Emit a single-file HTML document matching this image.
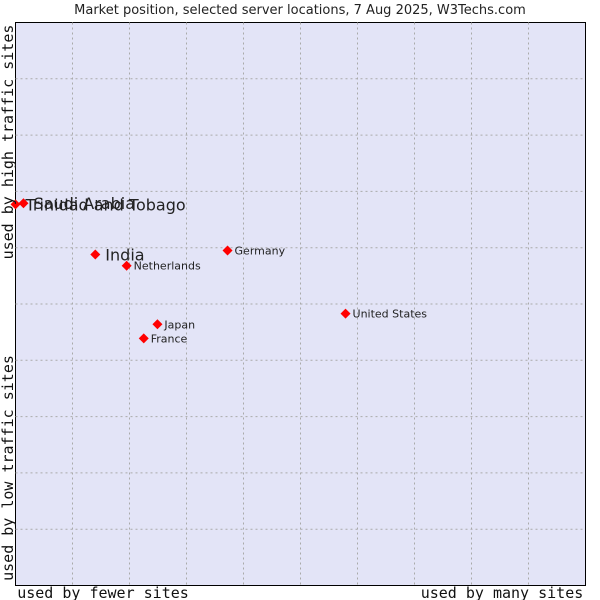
<!DOCTYPE html>
<html><head><meta charset="utf-8"><style>
body{margin:0;background:#fff;}
svg{display:block;font-family:"DejaVu Sans","Liberation Sans",sans-serif;}
</style></head><body>
<svg id="c" width="600" height="600">
<text x="300" y="14" text-anchor="middle" font-size="13" fill="#222">Market position, selected server locations, 7 Aug 2025, W3Techs.com</text>
<rect x="15.5" y="22.5" width="570" height="563" fill="#e3e4f7" stroke="#000"/>
<g id="grid"></g>
<g id="pts"></g>
<text x="103" y="598" text-anchor="middle" font-family="DejaVu Sans Mono,Liberation Mono,monospace" font-size="15" fill="#111">used by fewer sites</text>
<text x="502" y="598" text-anchor="middle" font-family="DejaVu Sans Mono,Liberation Mono,monospace" font-size="15" fill="#111">used by many sites</text>
<text transform="translate(13,142) rotate(-90)" text-anchor="middle" font-family="DejaVu Sans Mono,Liberation Mono,monospace" font-size="15" fill="#111">used by high traffic sites</text>
<text transform="translate(13,468) rotate(-90)" text-anchor="middle" font-family="DejaVu Sans Mono,Liberation Mono,monospace" font-size="15" fill="#111">used by low traffic sites</text>
</svg>
<script>
const countries=["Trinidad and Tobago","Saudi Arabia","India","Netherlands","Germany","United States","Japan","France"];
const xValues=[0,1.4,14.0,19.5,37.2,57.9,24.9,22.5];
const yValues=[67.7,67.9,58.8,56.8,59.5,48.3,46.4,43.9];
const bigLabel=[true,true,true,false,false,false,false,false];
const gridTicks=[10,20,30,40,50,60,70,80,90];
const NS="http://www.w3.org/2000/svg";
const X0=15.5,X1=585.5,Y0=585.5,Y1=22.5;
const sx=v=>X0+v/100*(X1-X0);
const sy=v=>Y0-v/100*(Y0-Y1);
const grid=document.getElementById('grid');
gridTicks.forEach(t=>{
  let l=document.createElementNS(NS,'line');
  l.setAttribute('x1',sx(t));l.setAttribute('x2',sx(t));l.setAttribute('y1',Y1);l.setAttribute('y2',Y0);
  l.setAttribute('stroke','#aaa');l.setAttribute('stroke-dasharray','2,3');
  
  
  grid.appendChild(l);
  let h=document.createElementNS(NS,'line');
  h.setAttribute('y1',sy(t));h.setAttribute('y2',sy(t));h.setAttribute('x1',X0);h.setAttribute('x2',X1);
  h.setAttribute('stroke','#aaa');h.setAttribute('stroke-dasharray','2,3');
  
  
  grid.appendChild(h);
});
const pts=document.getElementById('pts');
countries.forEach((c,i)=>{
  const x=sx(xValues[i]),y=sy(yValues[i]);
  let d=document.createElementNS(NS,'path');
  d.setAttribute('d',`M${x-5},${y} L${x},${y-5} L${x+5},${y} L${x},${y+5}Z`);
  d.setAttribute('fill','#f00');
  
  
  pts.appendChild(d);
  let t=document.createElementNS(NS,'text');
  t.setAttribute('x',x+(bigLabel[i]?10:7));
  t.setAttribute('y',y+(bigLabel[i]?6:4));
  t.setAttribute('font-size',bigLabel[i]?'16':'11');
  t.setAttribute('fill','#222');
  t.textContent=c;
  
  
  pts.appendChild(t);
});
</script>
</body></html>
